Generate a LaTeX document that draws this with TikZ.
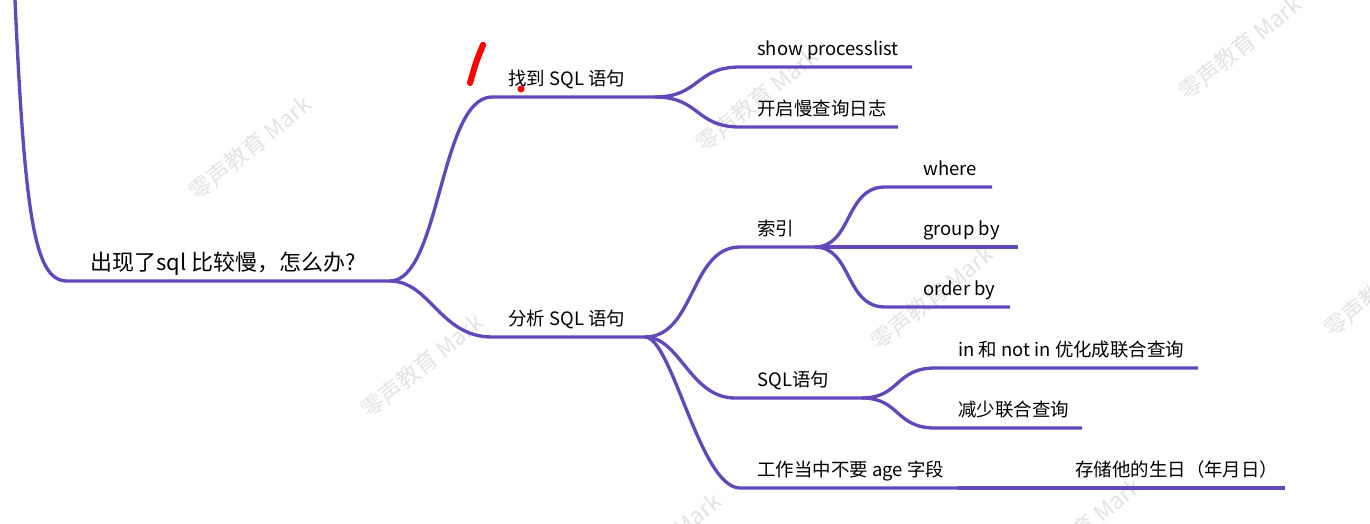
\documentclass[tikz,border=0pt]{standalone}
\usepackage{fontspec}
\setmainfont{Noto Sans CJK SC}
\definecolor{limbcol}{RGB}{98,72,186}
\begin{document}
\begin{tikzpicture}[x=0.02cm,y=-0.02cm,
  every node/.style={black,inner sep=0pt,anchor=base west,font=\fontsize{10.5}{12}\selectfont},
  limb/.style={line width=1.9pt,draw=limbcol},
  wmark/.style={anchor=center,rotate=39,text=black!11,font=\fontsize{13}{14}\selectfont}]
  \useasboundingbox (0,0) rectangle (1370,524);
  % watermarks
  \foreach \wx/\wy [count=\i] in {250/148,757/100,1240/48,932/298,422/366,1385/285,660/545,1080/530}
    \node[wmark] (wm\i) at (\wx,\wy) {零声教育 Mark};
  % root
  \coordinate (top) at (15,0);
  \coordinate (rootL) at (67,281);
  \coordinate (rootR) at (390,281);
  \draw[limb] (top) .. controls (25,220) and (35,281) .. (rootL) -- (rootR);
  \node[font=\fontsize{12.5}{14}\selectfont] (root) at (90,270) {出现了sql 比较慢，怎么办?};
  % find the statement
  \coordinate (findL) at (492,97);
  \coordinate (findR) at (655,97);
  \draw[limb] (rootR) .. controls (440,281) and (440,97) .. (findL) -- (findR);
  \node (find) at (508,85) {找到 SQL 语句};
  \coordinate (showL) at (740,67);
  \coordinate (showR) at (912,67);
  \draw[limb] (findR) .. controls (700,97) and (695,67) .. (showL) -- (showR);
  \node (show) at (757,55) {show processlist};
  \coordinate (slowL) at (740,127);
  \coordinate (slowR) at (898,127);
  \draw[limb] (findR) .. controls (700,97) and (695,127) .. (slowL) -- (slowR);
  \node (slow) at (757,115) {开启慢查询日志};
  % analyse the statement
  \coordinate (anaL) at (492,337);
  \coordinate (anaR) at (645,337);
  \draw[limb] (rootR) .. controls (430,281) and (440,337) .. (anaL) -- (anaR);
  \node (ana) at (508,325) {分析 SQL 语句};
  % index
  \coordinate (idxL) at (740,247);
  \coordinate (idxR) at (815,247);
  \draw[limb] (anaR) .. controls (695,337) and (690,247) .. (idxL) -- (idxR);
  \node (idx) at (757,235) {索引};
  \coordinate (whereL) at (885,187);
  \coordinate (whereR) at (992,187);
  \coordinate (groupR) at (1018,247);
  \coordinate (orderL) at (885,307);
  \coordinate (orderR) at (1010,307);
  \draw[limb] (idxR) .. controls (852,247) and (845,187) .. (whereL) -- (whereR);
  \draw[limb] (idxR) -- (groupR);
  \draw[limb] (idxR) .. controls (852,247) and (845,307) .. (orderL) -- (orderR);
  \node (where) at (923,175) {where};
  \node (group) at (923,235) {group by};
  \node (order) at (923,295) {order by};
  % statement
  \coordinate (stmtL) at (735,398);
  \coordinate (stmtR) at (862,398);
  \draw[limb] (anaR) .. controls (680,337) and (690,398) .. (stmtL) -- (stmtR);
  \node (stmt) at (757,386) {SQL语句};
  \coordinate (inL) at (935,368);
  \coordinate (inR) at (1198,368);
  \coordinate (lessL) at (935,428);
  \coordinate (lessR) at (1082,428);
  \draw[limb] (stmtR) .. controls (900,398) and (895,368) .. (inL) -- (inR);
  \draw[limb] (stmtR) .. controls (900,398) and (895,428) .. (lessL) -- (lessR);
  \node (in) at (958,356) {in 和 not in 优化成联合查询};
  \node (less) at (958,416) {减少联合查询};
  % age field
  \coordinate (ageL) at (740,488);
  \coordinate (ageR) at (958,488);
  \coordinate (birthR) at (1285,488);
  \draw[limb] (anaR) .. controls (672,337) and (700,488) .. (ageL) -- (ageR);
  \draw[limb] (ageR) -- (birthR);
  \node (age) at (757,476) {工作当中不要 age 字段};
  \node (birth) at (1075,476) {存储他的生日（年月日）};
  % red pen marks
  \draw[red,line width=3.5pt,line cap=round] (483,45) .. controls (476,62) .. (470,83);
  \fill[red] (521,89) circle (2pt);
\end{tikzpicture}
\end{document}
